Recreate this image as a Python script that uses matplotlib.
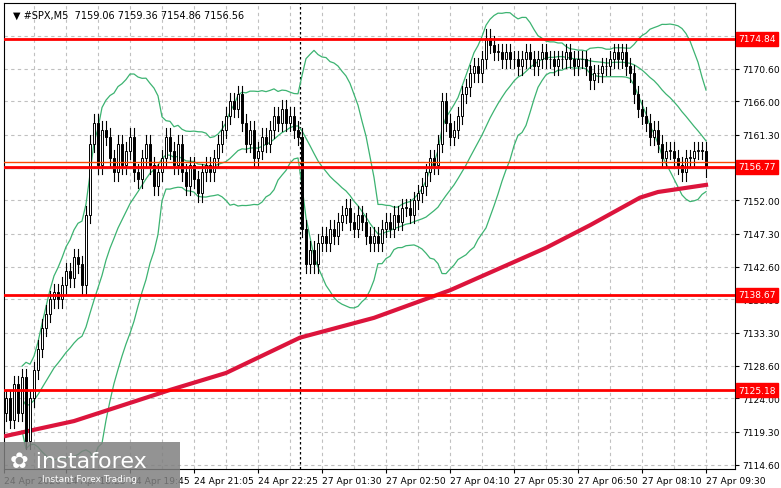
import matplotlib
matplotlib.use("Agg")
import matplotlib.pyplot as plt
import numpy as np
import pandas as pd
from matplotlib.patches import Rectangle

closes = [7124,7121,7126,7122,7127,7118,7124,7128,7131,7134,
          7136,7138,7139,7138,7140,7142,7141,7144,7143,7140,
          7150,7160,7163,7157,7162,7161,7158,7156,7160,7157,
          7159,7161,7156,7155,7158,7160,7157,7154,7156,7158,
          7161,7159,7157,7160,7156,7154,7157,7155,7153,7156,
          7157,7156,7158,7160,7162,7164,7166,7165,7167,7163,
          7160,7162,7158,7159,7161,7160,7162,7164,7163,7165,
          7163,7164,7162,7161,
          7148,7143,7145,7143,7146,7147,
          7146,7148,7147,7149,7150,7151,7149,7148,7150,7149,
          7147,7146,7147,7146,7148,7149,7148,7150,7149,7151,
          7151,7150,7152,7153,7154,7156,7158,7157,7160,7166,
          7163,7161,7162,7164,7167,7168,7170,7171,7170,7172,
          7175,7174,7173,7173,7172,7173,7172,7172,7171,7172,
          7173,7172,7171,7172,7173,7172,7172,7171,7172,7172,
          7173,7172,7171,7172,7172,7171,7169,7170,7170,7171,
          7171,7172,7173,7172,7173,7171,7170,7167,7165,7164,
          7163,7161,7162,7160,7158,7159,7159,7158,7157,7156,
          7158,7158,7159,7159,7159.06,7156.56]
first_open = 7122
wick = 1.2

ma_bars = [0,17,41,55,73.5,92,111,135,146,158.5,163,175]
ma_vals = [7118.7,7120.8,7125.2,7127.6,7132.6,7135.4,7139.3,7145.3,7148.5,7152.4,7153.2,7154.2]

levels = [7174.84,7156.77,7138.67,7125.18]
yticks = [7114.6,7119.3,7124.0,7128.6,7133.3,7138.0,7142.6,7147.3,7152.0,7161.3,7166.0,7170.6]
xtick_bars = [-0.5,15,31,47,63,79,95,111,127,143,159,175]
xtick_labels = ["24 Apr 2026","24 Apr 18:25","24 Apr 19:45","24 Apr 21:05","24 Apr 22:25",
                "27 Apr 01:30","27 Apr 02:50","27 Apr 04:10","27 Apr 05:30","27 Apr 06:50",
                "27 Apr 08:10","27 Apr 09:30"]

c = np.array(closes, float)
o = np.concatenate([[first_open], c[:-1]])
n = len(c)
x = np.arange(n)

fig = plt.figure(figsize=(7.81,4.89), dpi=100)
ax = fig.add_axes([4/781, 19/489, 731/781, 466/489])
ax.set_xlim(-0.5, 182.25)
ax.set_ylim(7114.02, 7179.93)

for yv in yticks + [7156.6, 7175.3]:
    ax.axhline(yv, color='#c0c0c0', ls=(0,(3,3)), lw=0.8, zorder=0)
for b in np.arange(-1, 183, 8):
    ax.axvline(b, color='#c0c0c0', ls=(0,(3,3)), lw=0.8, zorder=0)
ax.axvline(73.5, color='black', ls=(0,(2,2)), lw=0.9, zorder=1)

s = pd.Series(c)
mid = s.rolling(20, min_periods=5).mean()
sd = s.rolling(20, min_periods=5).std(ddof=0)
for band in (mid, mid+2*sd, mid-2*sd):
    ax.plot(x, band, color='#3cb371', lw=0.9, zorder=2)

ax.plot(ma_bars, ma_vals, color='#dc143c', lw=3, zorder=3)

for i in range(n):
    hi = max(o[i], c[i]) + wick
    lo = min(o[i], c[i]) - wick
    ax.plot([i,i],[lo,hi], color='black', lw=0.8, zorder=4)
    bot = min(o[i], c[i]); h = max(abs(c[i]-o[i]), 0.08)
    fc = 'white' if c[i] >= o[i] else 'black'
    ax.add_patch(Rectangle((i-0.35, bot), 0.7, h, facecolor=fc, edgecolor='black', lw=0.7, zorder=5))

ax.axhline(7157.46, color='#ff4500', lw=1, zorder=6)
ax.axhline(7156.56, color='#a0a0a0', lw=1, zorder=6)
for lv in levels:
    ax.axhline(lv, color='#ff0000', lw=2, zorder=6)

ax.yaxis.tick_right()
ax.set_yticks(yticks)
ax.set_yticklabels([f"{v:.2f}" for v in yticks], fontsize=6.6)
ax.set_xticks(xtick_bars)
ax.set_xticklabels(xtick_labels, fontsize=6.6, ha='left')
ax.tick_params(length=3, pad=2)
for lv in levels:
    ax.text(1.004, lv, f"{lv:.2f}", transform=ax.get_yaxis_transform(), fontsize=6.6,
            color='white', va='center', ha='left',
            bbox=dict(boxstyle='square,pad=0.25', fc='#ff0000', ec='#ff0000'))

ax.text(0.012, 0.985, "▼ #SPX,M5  7159.06 7159.36 7154.86 7156.56", transform=ax.transAxes,
        fontsize=7, va='top', ha='left')

fig.patches.append(Rectangle((0, 0), 180/781, 46/489, transform=fig.transFigure,
                             facecolor='#808080', alpha=0.85, zorder=10))
fig.text(10/781, 27/489, "✿ instaforex", color='white', fontsize=16, va='center', zorder=11)
fig.text(42/781, 9/489, "Instant Forex Trading", color='white', fontsize=6.5, va='center', zorder=11)

fig.savefig("out.png", dpi=100)
